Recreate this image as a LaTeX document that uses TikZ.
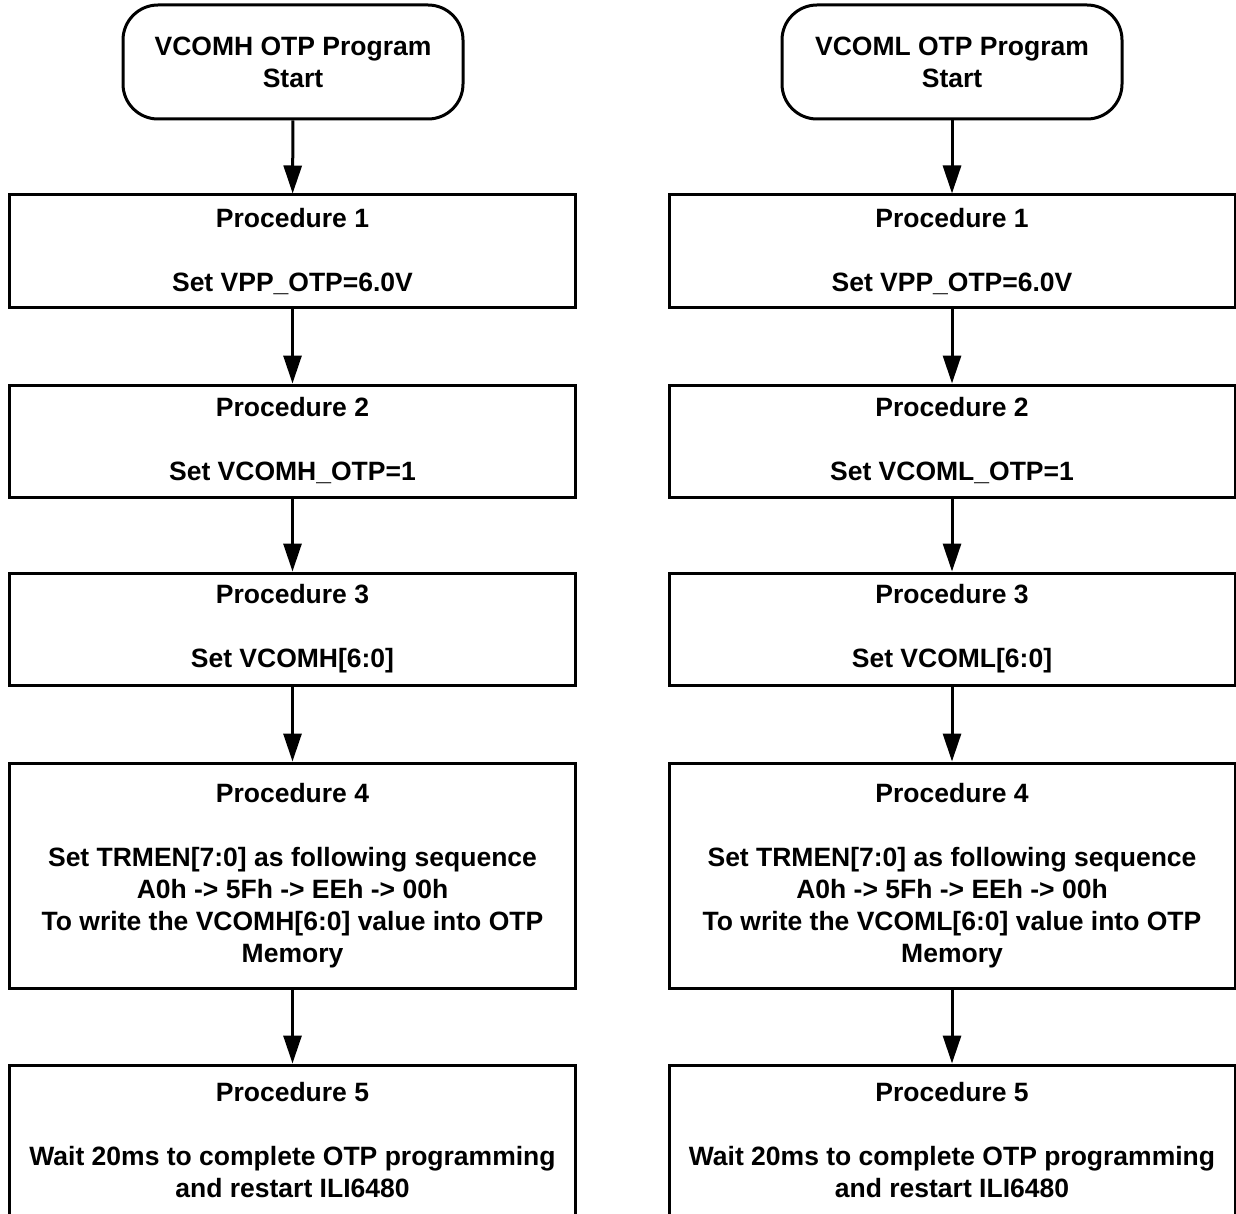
\documentclass[tikz,border=0pt]{standalone}
\usepackage{fontspec}
\setmainfont{Liberation Sans}
\usetikzlibrary{arrows.meta}
\begin{document}
\begin{tikzpicture}[x=1pt,y=-1pt,
  every node/.style={font=\fontsize{26.5}{32}\selectfont\bfseries, align=center, line width=3pt, inner sep=0pt},
  startbox/.style={draw, rounded corners=35pt, minimum width=340pt, minimum height=114pt},
  procbox/.style={draw, rectangle, minimum width=566pt},
  flow/.style={line width=3pt, -{Triangle[length=28pt,width=18pt]}}]
\useasboundingbox (0,0) rectangle (1236,1214);
% left column
\node[startbox] (ls) at (293,62) {VCOMH OTP Program\\Start};
\node[procbox, minimum height=113pt] (l1) at (292.5,251.5) {Procedure 1\\[32pt]Set VPP\_OTP=6.0V};
\node[procbox, minimum height=112pt] (l2) at (292.5,441) {Procedure 2\\[32pt]Set VCOMH\_OTP=1};
\node[procbox, minimum height=112pt] (l3) at (292.5,629) {Procedure 3\\[32pt]Set VCOMH[6:0]};
\node[procbox, minimum height=225pt] (l4) at (292.5,875.5) {Procedure 4\\[32pt]Set TRMEN[7:0] as following sequence\\A0h -> 5Fh -> EEh -> 00h\\To write the VCOMH[6:0] value into OTP\\Memory};
\node[procbox, minimum height=151pt] (l5) at (292.5,1140.5) {Procedure 5\\[32pt]Wait 20ms to complete OTP programming\\and restart ILI6480};
% right column
\node[startbox] (rs) at (952,62) {VCOML OTP Program\\Start};
\node[procbox, minimum height=113pt] (r1) at (952,251.5) {Procedure 1\\[32pt]Set VPP\_OTP=6.0V};
\node[procbox, minimum height=112pt] (r2) at (952,441) {Procedure 2\\[32pt]Set VCOML\_OTP=1};
\node[procbox, minimum height=112pt] (r3) at (952,629) {Procedure 3\\[32pt]Set VCOML[6:0]};
\node[procbox, minimum height=225pt] (r4) at (952,875.5) {Procedure 4\\[32pt]Set TRMEN[7:0] as following sequence\\A0h -> 5Fh -> EEh -> 00h\\To write the VCOML[6:0] value into OTP\\Memory};
\node[procbox, minimum height=151pt] (r5) at (952,1140.5) {Procedure 5\\[32pt]Wait 20ms to complete OTP programming\\and restart ILI6480};
% connectors
\draw[flow] (ls) -- (l1);
\draw[flow] (l1) -- (l2);
\draw[flow] (l2) -- (l3);
\draw[flow] (l3) -- (l4);
\draw[flow] (l4) -- (l5);
\draw[flow] (rs) -- (r1);
\draw[flow] (r1) -- (r2);
\draw[flow] (r2) -- (r3);
\draw[flow] (r3) -- (r4);
\draw[flow] (r4) -- (r5);
\end{tikzpicture}
\end{document}
